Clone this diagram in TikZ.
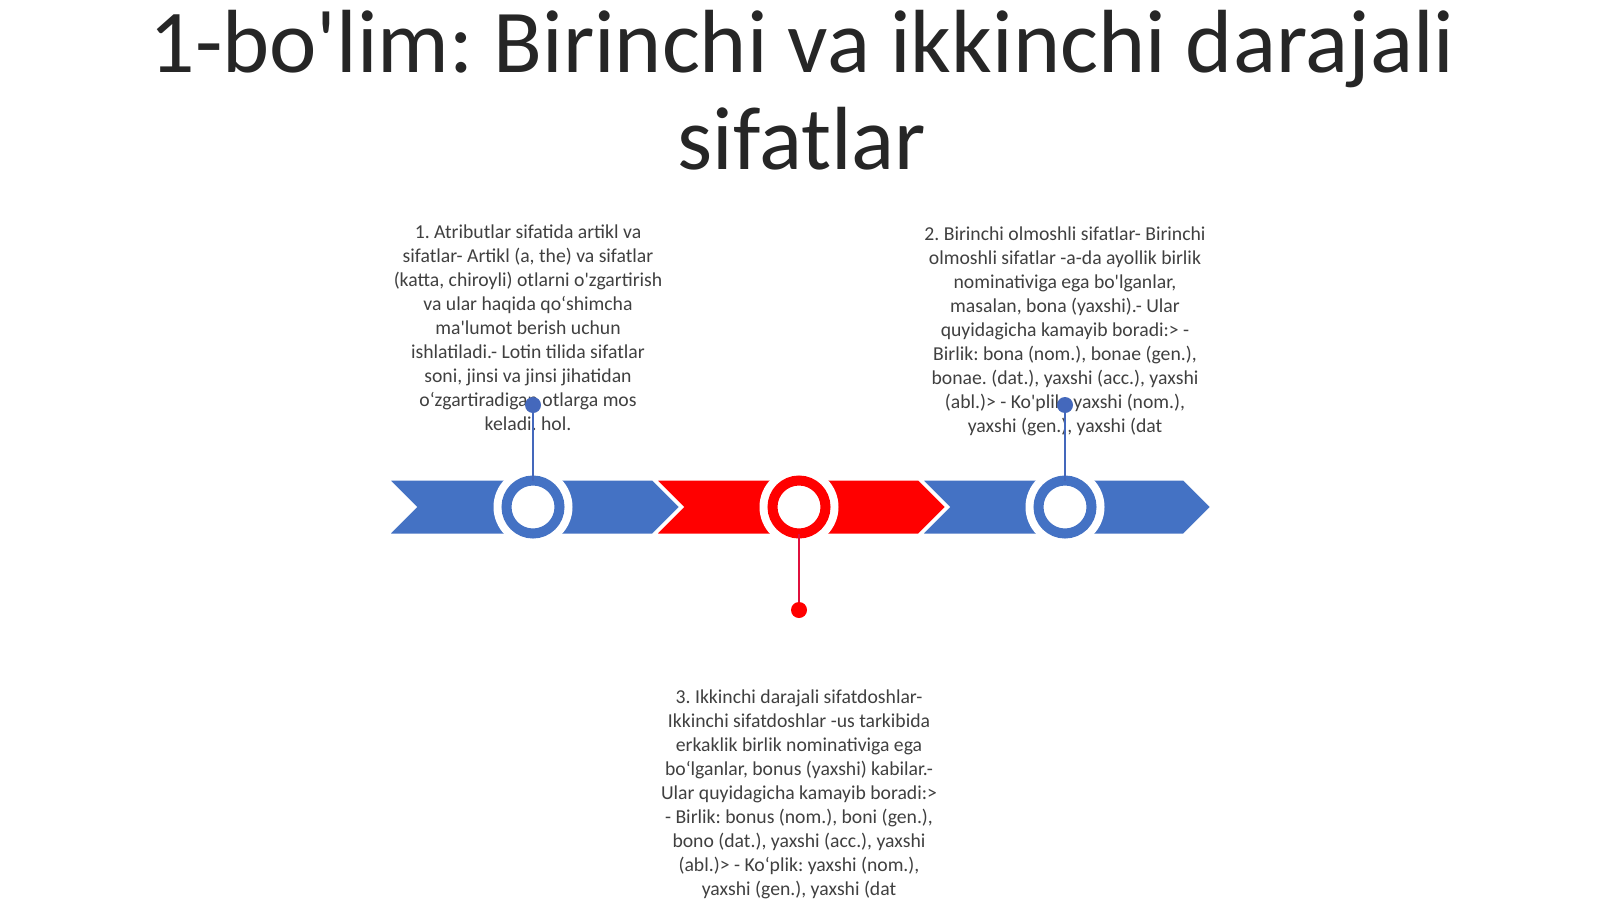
\documentclass[tikz,border=0pt]{standalone}
\usepackage{fontspec}
\setmainfont{Carlito}[Ligatures=TeXOff]
\definecolor{bandblue}{HTML}{4472C4}
\definecolor{bandred}{HTML}{FF0000}
\definecolor{lineblue}{HTML}{4468BC}
\definecolor{linered}{HTML}{E0103C}
\definecolor{textgray}{HTML}{404040}
\definecolor{titlegray}{HTML}{262626}
\tikzset{
  titletxt/.style={inner sep=0, text=titlegray, font=\fontsize{89.7}{95}\selectfont\frenchspacing},
  bodytxt/.style={align=center, inner sep=0, text=textgray, font=\fontsize{19.7}{23.95}\selectfont\frenchspacing},
  segment/.style={draw=white, line width=3pt, line join=miter},
  halo/.style={circle, fill=white, minimum size=79pt, inner sep=0, outer sep=0},
  ring/.style={circle, fill=white, line width=10pt, minimum size=53pt, inner sep=0, outer sep=0},
  enddot/.style={circle, minimum size=16pt, inner sep=0, outer sep=0},
  stem/.style={line width=2.4pt}
}
\begin{document}
\begin{tikzpicture}[x=1pt,y=-1pt]
\useasboundingbox (0,0) rectangle (1600,899);
\fill[white] (0,0) rectangle (1600,899);
% title
\node[titletxt, anchor=base] (t1) at (802,72) {1-bo'lim: Birinchi va ikkinchi darajali};
\node[titletxt, anchor=base] (t2) at (802,169) {sifatlar};
% body texts
\node[bodytxt, anchor=north] (b1) at (528,225) {1. Atributlar sifatida artikl va\\
sifatlar- Artikl (a, the) va sifatlar\\
(katta, chiroyli) otlarni o'zgartirish\\
va ular haqida qoʻshimcha\\
ma'lumot berish uchun\\
ishlatiladi.- Lotin tilida sifatlar\\
soni, jinsi va jinsi jihatidan\\
oʻzgartiradigan otlarga mos\\
keladi. hol.};
\node[bodytxt, anchor=north] (b2) at (1065,227) {2. Birinchi olmoshli sifatlar- Birinchi\\
olmoshli sifatlar -a-da ayollik birlik\\
nominativiga ega bo'lganlar,\\
masalan, bona (yaxshi).- Ular\\
quyidagicha kamayib boradi:> -\\
Birlik: bona (nom.), bonae (gen.),\\
bonae. (dat.), yaxshi (acc.), yaxshi\\
(abl.)> - Ko'plik: yaxshi (nom.),\\
yaxshi (gen.), yaxshi (dat};
\node[bodytxt, anchor=north] (b3) at (799,690) {3. Ikkinchi darajali sifatdoshlar-\\
Ikkinchi sifatdoshlar -us tarkibida\\
erkaklik birlik nominativiga ega\\
boʻlganlar, bonus (yaxshi) kabilar.-\\
Ular quyidagicha kamayib boradi:>\\
- Birlik: bonus (nom.), boni (gen.),\\
bono (dat.), yaxshi (acc.), yaxshi\\
(abl.)> - Koʻplik: yaxshi (nom.),\\
yaxshi (gen.), yaxshi (dat};
% band
\filldraw[segment, fill=bandblue] (387,479) -- (653,479) -- (681,507) -- (653,535) -- (387,535) -- (415,507) -- cycle;
\filldraw[segment, fill=bandred] (654,479) -- (919,479) -- (947,507) -- (919,535) -- (654,535) -- (682,507) -- cycle;
\filldraw[segment, fill=bandblue] (920,479) -- (1184,479) -- (1212,507) -- (1184,535) -- (920,535) -- (948,507) -- cycle;
% halos
\node[halo] (h1) at (533,507) {};
\node[halo] (h2) at (799,507) {};
\node[halo] (h3) at (1065,507) {};
% rings
\node[ring, draw=bandblue] (r1) at (533,507) {};
\node[ring, draw=bandred] (r2) at (799,507) {};
\node[ring, draw=bandblue] (r3) at (1065,507) {};
% dots
\node[enddot, fill=lineblue] (d1) at (533,405) {};
\node[enddot, fill=bandred] (d2) at (799,610) {};
\node[enddot, fill=lineblue] (d3) at (1065,405) {};
% stems
\draw[stem, lineblue] (r1.north) -- (d1);
\draw[stem, linered] (r2.south) -- (d2);
\draw[stem, lineblue] (r3.north) -- (d3);
\end{tikzpicture}
\end{document}
